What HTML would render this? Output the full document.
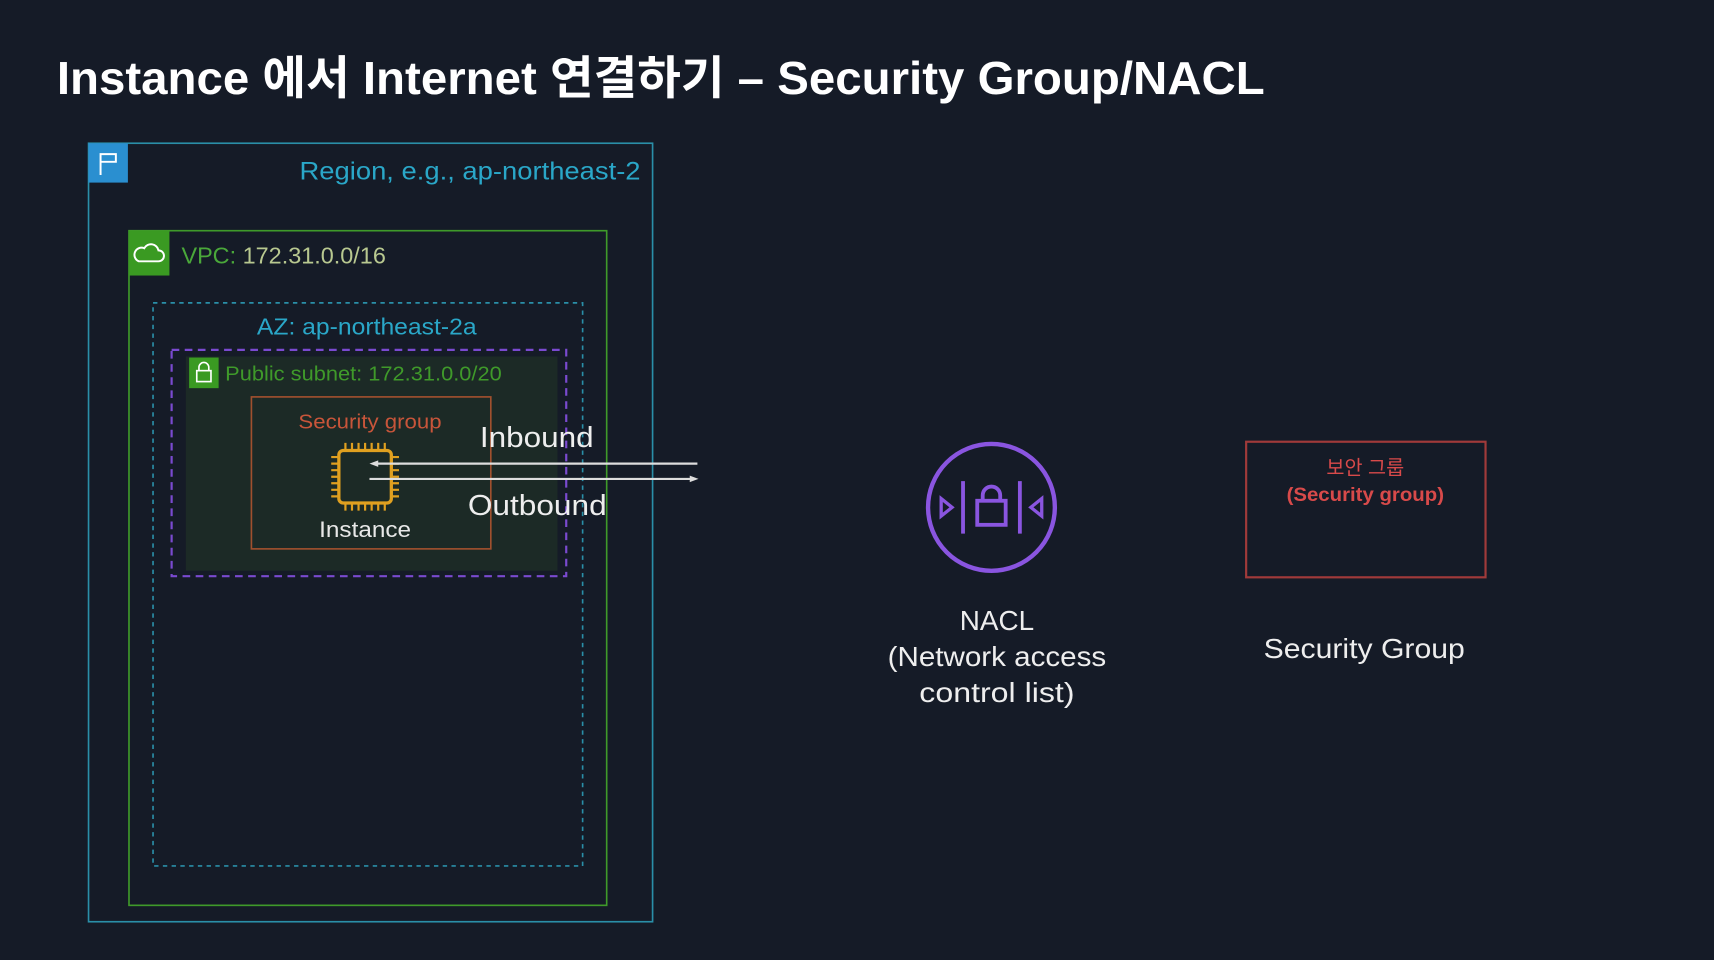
<!DOCTYPE html>
<html><head><meta charset="utf-8"><style>
html,body{margin:0;padding:0;background:#151b27;overflow:hidden}
svg{display:block}
text{font-family:"Liberation Sans","Noto Sans CJK KR",sans-serif}
</style></head><body>
<svg width="1714" height="960" viewBox="0 0 1568 878" preserveAspectRatio="none" xmlns="http://www.w3.org/2000/svg">
<rect width="1568" height="878" fill="#151b27"/>
<text x="52" y="86" font-size="42" font-weight="bold" fill="#ffffff" textLength="1105" lengthAdjust="spacingAndGlyphs">Instance 에서 Internet 연결하기 – Security Group/NACL</text>

<!-- Region -->
<rect x="81" y="131" width="516" height="712" fill="none" stroke="#2a8fa8" stroke-width="1.5"/>
<rect x="81" y="131" width="36" height="36" fill="#2a8fd0"/>
<path d="M92 140 v20 M92 141 h14 v7 h-14" stroke="#fff" stroke-width="1.8" fill="none"/>
<text x="274" y="164" font-size="23" fill="#2aa7c8" textLength="312" lengthAdjust="spacingAndGlyphs">Region, e.g., ap-northeast-2</text>

<!-- VPC -->
<rect x="118" y="211" width="437" height="617" fill="none" stroke="#3f9a2a" stroke-width="1.5"/>
<rect x="118" y="211" width="37" height="41" fill="#3a9a22"/>
<path d="M127 239 h18 a5 5 0 0 0 0-10 a7 7 0 0 0-13-2 a5 5 0 0 0-5 12z" stroke="#fff" stroke-width="1.8" fill="none"/>
<text x="166" y="241" font-size="21" fill="#4aa83a" textLength="187" lengthAdjust="spacingAndGlyphs">VPC: <tspan fill="#b8c890">172.31.0.0/16</tspan></text>

<!-- AZ -->
<rect x="140" y="277" width="393" height="515" fill="none" stroke="#2a8fa8" stroke-width="1.5" stroke-dasharray="4 4"/>
<text x="235" y="306" font-size="21" fill="#2aa7c8" textLength="201" lengthAdjust="spacingAndGlyphs">AZ: ap-northeast-2a</text>

<!-- Subnet -->
<rect x="170" y="326" width="340" height="196" fill="#1c2a26"/>
<rect x="157" y="320" width="361" height="207" fill="none" stroke="#7a4ad0" stroke-width="2" stroke-dasharray="7 5"/>
<rect x="173" y="327" width="27" height="28" fill="#3a9a22"/>
<rect x="180" y="339" width="13" height="10" fill="none" stroke="#fff" stroke-width="1.5"/>
<path d="M182 339 v-3 a4 4 0 0 1 9 0 v3" stroke="#fff" stroke-width="1.5" fill="none"/>
<text x="206" y="348" font-size="19" fill="#3f9a2a" textLength="253" lengthAdjust="spacingAndGlyphs">Public subnet: 172.31.0.0/20</text>

<!-- Security group -->
<rect x="230" y="363" width="219" height="139" fill="none" stroke="#a0502e" stroke-width="1.5"/>
<text x="273" y="392" font-size="19" fill="#c8553a" textLength="131" lengthAdjust="spacingAndGlyphs">Security group</text>
<rect x="310" y="412" width="48" height="48" rx="4" fill="none" stroke="#e0a020" stroke-width="3"/>
<g stroke="#e0a020" stroke-width="2">
<path d="M316 405v7M322 405v7M328 405v7M334 405v7M340 405v7M346 405v7M352 405v7"/>
<path d="M316 460v7M322 460v7M328 460v7M334 460v7M340 460v7M346 460v7M352 460v7"/>
<path d="M303 418h7M303 424h7M303 430h7M303 436h7M303 442h7M303 448h7M303 454h7"/>
<path d="M358 418h7M358 424h7M358 430h7M358 436h7M358 442h7M358 448h7M358 454h7"/>
</g>
<text x="292" y="491" font-size="20" fill="#e8e8e8" textLength="84" lengthAdjust="spacingAndGlyphs">Instance</text>

<!-- arrows -->
<line x1="344" y1="424" x2="638" y2="424" stroke="#ddd" stroke-width="2"/>
<path d="M338 424 l8 -3 v6z" fill="#ddd"/>
<line x1="338" y1="438" x2="632" y2="438" stroke="#ddd" stroke-width="2"/>
<path d="M639 438 l-8 -3 v6z" fill="#ddd"/>
<text x="439" y="409" font-size="26" fill="#eeeeee" textLength="104" lengthAdjust="spacingAndGlyphs">Inbound</text>
<text x="428" y="471" font-size="26" fill="#eeeeee" textLength="127" lengthAdjust="spacingAndGlyphs">Outbound</text>

<!-- NACL -->
<circle cx="907" cy="464" r="58" fill="none" stroke="#8a55e0" stroke-width="4"/>
<g stroke="#8a55e0" stroke-width="3.5" fill="none">
<path d="M881 440v48M933 440v48"/>
<rect x="894" y="458" width="26" height="22"/>
<path d="M899 458v-5a8 8 0 0 1 16 0v5"/>
</g>
<path d="M861 456v16l10-8z M953 456v16l-10-8z" fill="none" stroke="#8a55e0" stroke-width="3"/>
<text x="878" y="576" font-size="25" fill="#eeeeee" textLength="68" lengthAdjust="spacingAndGlyphs">NACL</text>
<text x="812" y="609" font-size="25" fill="#eeeeee" textLength="200" lengthAdjust="spacingAndGlyphs">(Network access</text>
<text x="841" y="642" font-size="25" fill="#eeeeee" textLength="142" lengthAdjust="spacingAndGlyphs">control list)</text>

<!-- Security Group box -->
<rect x="1140" y="404" width="219" height="124" fill="none" stroke="#a03a3a" stroke-width="2"/>
<text x="1249" y="434" font-size="18" fill="#d84a4a" text-anchor="middle">보안 그룹</text>
<text x="1177" y="458" font-size="18" fill="#d84a4a" font-weight="bold" textLength="144" lengthAdjust="spacingAndGlyphs">(Security group)</text>
<text x="1156" y="602" font-size="25" fill="#eeeeee" textLength="184" lengthAdjust="spacingAndGlyphs">Security Group</text>
</svg>
</body></html>
